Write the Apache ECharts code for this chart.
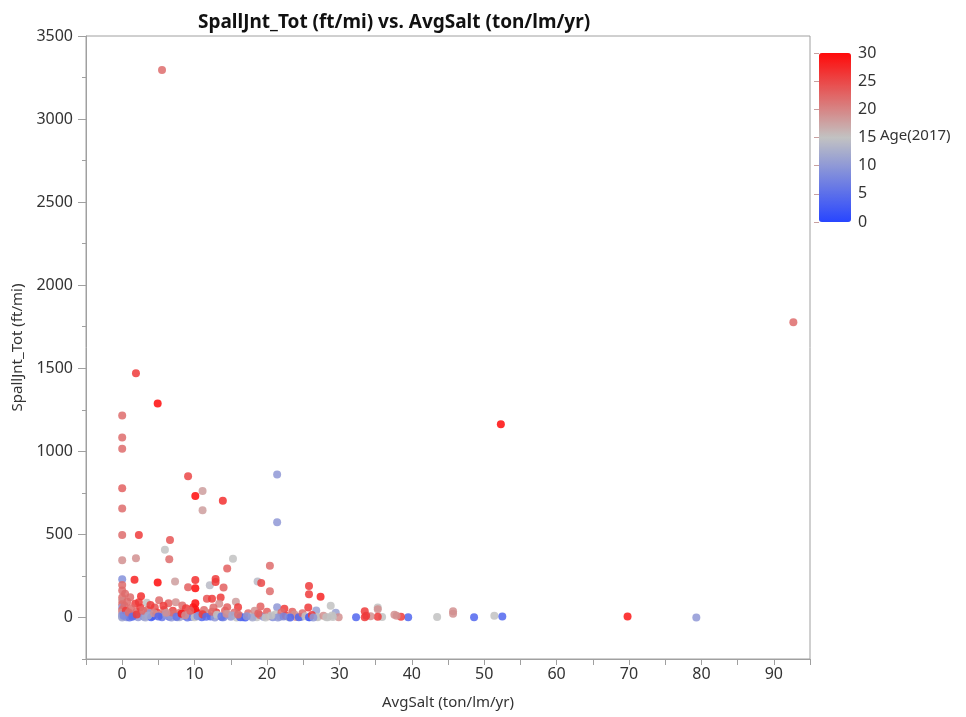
<!DOCTYPE html>
<html>
<head>
<meta charset="utf-8">
<script src="https://cdn.jsdelivr.net/npm/echarts@6/dist/echarts.min.js"></script>
<style>
  html, body { margin: 0; padding: 0; background: #fff; }
  #chart { width: 966px; height: 717px; }
</style>
</head>
<body>
<div id="chart"></div>
<script>
// AvgSalt (ton/lm/yr), SpallJnt_Tot (ft/mi), Age(2017)
const avgSalt = [
  5.5, 1.9, 4.9, 0, 0, 0, 0, 0, 0, 0, 0, 92.7, 52.3, 9.1, 10.1, 11.1, 13.9, 11.1, 21.4, 21.4,
  2.3, 6.6, 5.9, 1.9, 6.5, 15.3, 14.5, 20.4, 18.7, 19.2, 20.4, 25.8, 25.8, 27.4, 1.7, 4.9,
  7.3, 9.1, 10.1, 10.1, 12.1, 12.9, 12.9, 14.0, 0, 0, 0.4, 1.1, 2.6, 2.3, 1.8, 3.4, 5.1,
  6.4, 7.4, 8.3, 10.1, 10.1, 11.7, 12.4, 13.6, 13.4, 14.5, 15.7, 16.0, 19.1, 21.4, 22.4,
  23.5, 25.7, 26.8, 28.8, 29.5, 35.3, 35.3, 33.5, 45.7, 45.7, 69.8, 79.3, 51.4, 52.5, 48.6,
  43.5, 39.5, 38.5, 37.9, 37.6, 35.9, 35.3, 34.3, 33.7, 33.5, 32.3, 29.9, 29.1, 28.4, 26.9,
  25.9, 24.7,
  0, 0, 0, 0, 0, 0, 0, 0, 0, 0.3, 0.5, 0.8, 1.2, 1.5, 2.0, 2.5, 2.8, 3.0, 3.5, 3.8, 4.2,
  4.5, 4.8, 5.2, 5.5, 5.8, 6.0, 6.5, 7.0, 7.2, 7.6, 8.0, 8.5, 8.8, 9.2, 9.5, 9.8, 10.3,
  10.6, 11.0, 11.3, 11.8, 12.2, 12.6, 13.0, 13.3, 13.8, 14.2, 14.6, 15.0, 15.5, 16.2, 16.6,
  17.0, 17.4, 17.9, 18.3, 18.6, 19.0, 19.5, 20.0, 20.3, 20.8, 21.2, 21.8, 22.0, 22.6, 23.0,
  23.8, 24.0, 24.4, 24.9, 25.3, 25.8, 26.2, 27.0, 27.8, 28.2, 29.0,
  0.6, 1.0, 2.2, 3.2, 4.0, 6.8, 7.9, 9.0, 10.0, 12.8, 14.0, 15.8, 16.3, 18.0, 19.8, 21.5,
  23.2, 26.4,
  0.2, 0.9, 1.4, 2.0, 2.9, 3.6, 4.4, 5.0, 5.7, 6.3, 6.9, 7.5, 8.2, 8.7, 9.4, 10.4,
  11.1, 11.6, 12.4, 13.1, 13.7, 14.4, 15.2, 16.0, 17.2, 18.8, 20.6, 22.3, 0.7, 3.9, 6.1
];
const spallJnt = [
  3295, 1470, 1288, 1215, 1083, 1015, 778, 656, 496, 345, 230, 1777, 1163, 850, 731, 761, 702, 646, 860, 573,
  497, 467, 408, 357, 351, 353, 294, 312, 216, 207, 158, 189, 139, 124, 227, 210,
  217, 182, 226, 176, 194, 232, 213, 180, 195, 163, 143, 122, 128, 92, 82, 88, 104,
  86, 92, 72, 86, 48, 112, 113, 120, 82, 62, 94, 62, 66, 61, 52,
  34, 60, 42, 70, 29, 60, 50, 38, 38, 22, 6, 0, 10, 6, 2,
  3, 1, 5, 10, 16, 3, 4, 8, 10, 2, 1, 2, 3, 1, 4,
  1, 3,
  120, 100, 80, 60, 45, 30, 15, 5, 0, 70, 40, 20, 55, 10, 35, 60, 15, 5, 45, 25, 8,
  60, 30, 15, 2, 45, 20, 5, 40, 18, 2, 30, 10, 55, 20, 3, 62, 30,
  12, 2, 45, 25, 6, 60, 30, 10, 2, 40, 20, 5, 30, 12, 2,
  0, 25, 8, 40, 2, 15, 4, 35, 8, 1, 20, 5, 30, 10, 2,
  18, 3, 1, 25, 8, 1, 15, 2, 10, 1, 12,
  2, 0, 1, 0, 2, 0, 1, 0, 1, 0, 1, 0, 1, 0, 0, 0,
  0, 0,
  10, 30, 5, 18, 40, 12, 25, 6, 70, 12, 30, 4, 22, 14, 40, 8,
  20, 5, 34, 16, 6, 22, 12, 18, 8, 24, 12, 6, 95, 75, 28
];
const age2017 = [
  22, 26, 30, 22, 22, 22, 23, 22, 22, 19, 9, 22, 30, 25, 30, 18, 27, 18, 10, 10,
  26, 24, 15, 19, 22, 15, 23, 22, 14, 25, 22, 26, 26, 28, 28, 30,
  18, 23, 27, 30, 14, 26, 26, 23, 22, 22, 22, 22, 27, 26, 26, 15, 22,
  23, 19, 22, 30, 30, 24, 26, 26, 19, 23, 18, 26, 23, 10, 26,
  23, 26, 11, 15, 11, 15, 19, 26, 19, 19, 29, 10, 15, 4, 4,
  15, 4, 26, 19, 19, 15, 26, 19, 26, 26, 4, 19, 15, 15, 15,
  4, 10,
  22, 20, 22, 10, 22, 19, 10, 9, 12, 22, 26, 10, 22, 4, 22, 26, 19, 8, 22, 10, 4,
  24, 26, 19, 6, 22, 10, 4, 26, 19, 9, 22, 4, 26, 19, 8, 29, 29,
  10, 4, 22, 19, 4, 22, 26, 12, 5, 23, 15, 10, 22, 19, 8,
  3, 22, 15, 19, 15, 22, 10, 23, 19, 9, 15, 12, 22, 26, 15,
  19, 19, 4, 22, 15, 3, 26, 15, 19, 15, 15,
  10, 6, 10, 12, 3, 10, 12, 6, 15, 10, 8, 15, 4, 12, 15, 10,
  4, 10,
  8, 22, 5, 26, 22, 12, 19, 4, 26, 10, 22, 6, 29, 19, 23, 9,
  26, 5, 22, 15, 6, 19, 12, 22, 10, 23, 15, 8, 22, 26, 19
];
const xTicks = [-5, 95, 5];
const yRange = [-250, 3500];
const yMajorTicks = [0, 500, 1000, 1500, 2000, 2500, 3000, 3500];
const yMinorTicks = [-250, 250, 750, 1250, 1750, 2250, 2750, 3250];
const ageTicks = [0, 30, 5];

const points = avgSalt.map((x, i) => [x, spallJnt[i], age2017[i]]);

const font = 'Noto Sans';
const axisGray = '#a0a0a0';

const chart = echarts.init(document.getElementById('chart'));
chart.setOption({
  animation: false,
  title: {
    text: 'SpallJnt_Tot (ft/mi) vs. AvgSalt (ton/lm/yr)',
    left: 193,
    top: 8,
    textStyle: { fontFamily: font, fontSize: 19, fontWeight: 'bold', color: '#111' }
  },
  grid: [
    {
      left: 86, right: 156, top: 36, bottom: 58,
      outerBoundsMode: 'none',
      show: true, borderColor: axisGray, borderWidth: 1
    },
    { left: 819, top: 53, width: 32, height: 169, outerBoundsMode: 'none' }
  ],
  xAxis: [
    {
      type: 'value',
      min: xTicks[0], max: xTicks[1], interval: xTicks[2],
      name: 'AvgSalt (ton/lm/yr)',
      nameLocation: 'middle',
      nameGap: 36,
      nameTextStyle: { fontFamily: font, fontSize: 15, color: '#333' },
      axisLine: { onZero: false, lineStyle: { color: axisGray } },
      axisTick: { length: 6, lineStyle: { color: axisGray } },
      axisLabel: {
        fontFamily: font, fontSize: 16, color: '#333', margin: 7,
        formatter: v => (v % 10 === 0 ? String(v) : '')
      },
      splitLine: { show: false }
    },
    { gridIndex: 1, type: 'value', show: false }
  ],
  yAxis: [
    {
      type: 'value',
      position: 'left',
      min: yRange[0], max: yRange[1], interval: 250,
      name: 'SpallJnt_Tot (ft/mi)',
      nameLocation: 'middle',
      nameGap: 60,
      nameTextStyle: { fontFamily: font, fontSize: 15, color: '#333' },
      axisLine: { show: true, onZero: false, lineStyle: { color: axisGray } },
      axisTick: { show: true, length: 8, customValues: yMajorTicks, lineStyle: { color: axisGray } },
      axisLabel: {
        fontFamily: font, fontSize: 16, color: '#333', margin: 13,
        customValues: yMajorTicks,
        formatter: v => String(v)
      },
      splitLine: { show: false }
    },
    {
      type: 'value',
      position: 'left',
      offset: 0,
      min: yRange[0], max: yRange[1], interval: 250,
      axisLine: { show: false, onZero: false },
      axisTick: { show: true, length: 4, customValues: yMinorTicks, lineStyle: { color: axisGray } },
      axisLabel: { show: false },
      splitLine: { show: false }
    },
    {
      gridIndex: 1,
      type: 'value',
      position: 'right',
      min: ageTicks[0], max: ageTicks[1], interval: ageTicks[2],
      axisLine: { show: false },
      axisTick: { show: true, inside: true, length: 5, lineStyle: { color: '#c8a0a0' } },
      axisLabel: { fontFamily: font, fontSize: 16, color: '#333', margin: 7 },
      splitLine: { show: false }
    }
  ],
  visualMap: {
    type: 'continuous',
    seriesIndex: 0,
    dimension: 2,
    min: ageTicks[0],
    max: ageTicks[1],
    orient: 'vertical',
    left: 819,
    top: 53,
    padding: 0,
    itemWidth: 32,
    itemHeight: 169,
    calculable: false,
    hoverLink: false,
    text: null,
    inRange: { color: ['#2845ff', '#c2c2c2', '#ff0a0a'] }
  },
  graphic: [
    {
      type: 'text',
      left: 880,
      top: 128,
      style: { text: 'Age(2017)', font: '15px "Noto Sans"', fill: '#333' }
    }
  ],
  series: [
    {
      type: 'scatter',
      xAxisIndex: 0,
      yAxisIndex: 0,
      symbolSize: 8,
      itemStyle: { opacity: 0.85 },
      data: points
    }
  ]
});
</script>
</body>
</html>
